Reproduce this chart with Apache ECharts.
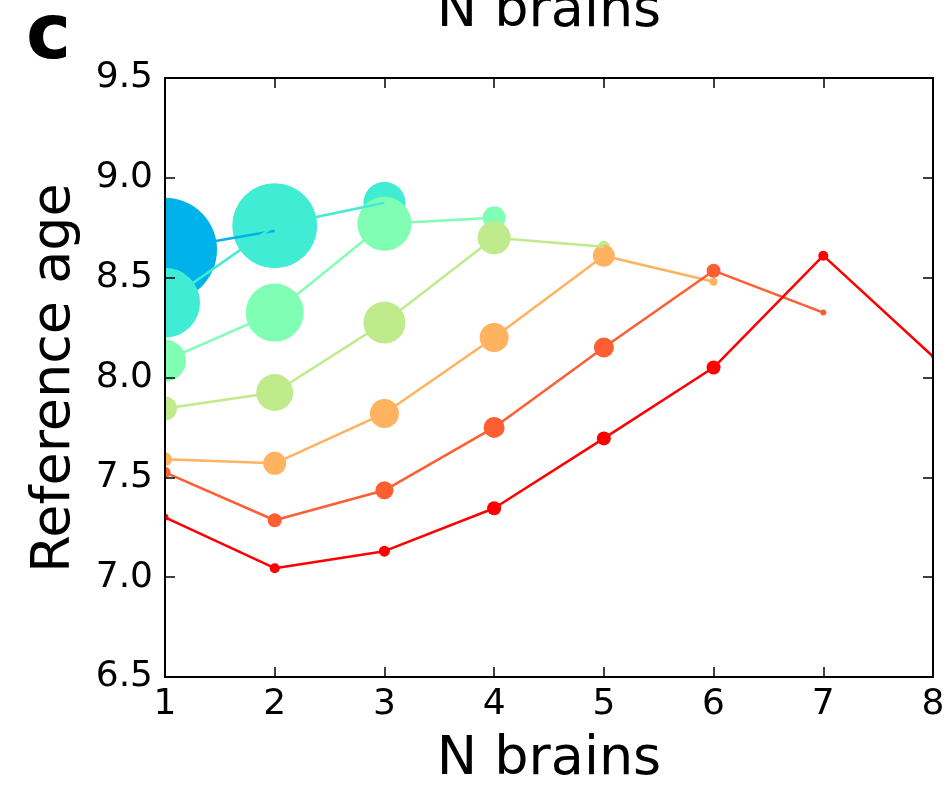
<!DOCTYPE html>
<html>
<head>
<meta charset="utf-8">
<script src="https://cdn.jsdelivr.net/npm/echarts@6/dist/echarts.min.js"></script>
<style>
html,body{margin:0;padding:0;background:#fff;}
#chart{width:948px;height:785px;}
</style>
</head>
<body>
<div id="chart"></div>
<script>
// N brains (x) for each point index
var nBrains = [1, 2, 3, 4, 5, 6, 7, 8];
// Reference age values per series (each starts at N = 1)
var seriesBlue      = [8.64, 8.735];
var seriesTurquoise = [8.375, 8.76, 8.875];
var seriesMint      = [8.085, 8.325, 8.77, 8.80];
var seriesLime      = [7.845, 7.925, 8.275, 8.70, 8.655];
var seriesOrange    = [7.59, 7.57, 7.82, 8.20, 8.61, 8.48];
var seriesCoral     = [7.525, 7.285, 7.435, 7.75, 8.15, 8.535, 8.325];
var seriesRed       = [7.30, 7.045, 7.13, 7.345, 7.695, 8.05, 8.61, 8.105];
// Marker diameters (weights) per point
var sizeBlue      = [104, 6];
var sizeTurquoise = [70, 85, 42];
var sizeMint      = [42, 58, 54, 23];
var sizeLime      = [24, 37, 42, 33, 12];
var sizeOrange    = [14, 23, 29, 29, 22, 8];
var sizeCoral     = [11, 14, 18, 21, 20, 14, 6];
var sizeRed       = [7, 10, 11, 14, 14, 14, 10, 4];
// Y tick labels
var yTicks = ['6.5', '7.0', '7.5', '8.0', '8.5', '9.0', '9.5'];

var groups = [
  {vals: seriesBlue, sizes: sizeBlue, color: '#00b2ea'},
  {vals: seriesTurquoise, sizes: sizeTurquoise, color: '#40ecd4'},
  {vals: seriesMint, sizes: sizeMint, color: '#80ffb4'},
  {vals: seriesLime, sizes: sizeLime, color: '#c0eb8d'},
  {vals: seriesOrange, sizes: sizeOrange, color: '#ffb360'},
  {vals: seriesCoral, sizes: sizeCoral, color: '#ff5e33'},
  {vals: seriesRed, sizes: sizeRed, color: '#ff0000'}
];

var series = [];
groups.forEach(function (g, gi) {
  var pts = g.vals.map(function (v, i) { return [nBrains[i], v]; });
  series.push({
    type: 'scatter',
    data: pts.map(function (p, i) { return {value: p, symbolSize: g.sizes[i]}; }),
    itemStyle: {color: g.color, opacity: 1},
    z: 2 + gi * 0.01,
    silent: true,
    animation: false
  });
});
groups.forEach(function (g, gi) {
  var pts = g.vals.map(function (v, i) { return [nBrains[i], v]; });
  series.push({
    type: 'line',
    data: pts,
    showSymbol: false,
    lineStyle: {color: g.color, width: 2.5},
    z: 3 + gi * 0.01,
    silent: true,
    animation: false,
    clip: true
  });
});

var FONT = 'DejaVu Sans';
var axisLineStyle = {color: '#000', width: 2};

var chart = echarts.init(document.getElementById('chart'), null, {renderer: 'canvas'});
chart.setOption({
  backgroundColor: '#fff',
  animation: false,
  grid: {left: 165, right: 15, top: 78, bottom: 108},
  xAxis: [{
    type: 'value', min: 1, max: 8, interval: 1, position: 'bottom', z: 10,
    axisLine: {show: true, lineStyle: axisLineStyle},
    axisTick: {show: true, inside: true, length: 10, lineStyle: {color: '#000', width: 1.5}},
    axisLabel: {color: '#000', fontFamily: FONT, fontSize: 36, margin: 10},
    splitLine: {show: false}
  }, {
    type: 'value', min: 1, max: 8, interval: 1, position: 'top', z: 10,
    axisLine: {show: true, lineStyle: axisLineStyle},
    axisTick: {show: true, inside: true, length: 10, lineStyle: {color: '#000', width: 1.5}},
    axisLabel: {show: false},
    splitLine: {show: false}
  }],
  yAxis: [{
    type: 'value', min: 6.5, max: 9.5, interval: 0.5, position: 'left', z: 10,
    axisLine: {show: true, lineStyle: axisLineStyle},
    axisTick: {show: true, inside: true, length: 10, lineStyle: {color: '#000', width: 1.5}},
    axisLabel: {color: '#000', fontFamily: FONT, fontSize: 36, margin: 12,
      formatter: function (v) { return yTicks[Math.round((v - 6.5) / 0.5)]; }},
    splitLine: {show: false}
  }, {
    type: 'value', min: 6.5, max: 9.5, interval: 0.5, position: 'right', z: 10,
    axisLine: {show: true, lineStyle: axisLineStyle},
    axisTick: {show: true, inside: true, length: 10, lineStyle: {color: '#000', width: 1.5}},
    axisLabel: {show: false},
    splitLine: {show: false}
  }],
  graphic: [
    {type: 'rect', left: 0, top: 60, shape: {x: 0, y: 0, width: 164, height: 640}, style: {fill: '#fff'}, z: 5, silent: true},
    {type: 'rect', left: 934, top: 60, shape: {x: 0, y: 0, width: 14, height: 616}, style: {fill: '#fff'}, z: 5, silent: true},
    {type: 'text', x: 549, y: 12, z: 20, style: {text: 'N brains', fontFamily: FONT, fontSize: 54, fill: '#000', textAlign: 'center', textVerticalAlign: 'middle'}},
    {type: 'text', x: 549, y: 760, z: 20, style: {text: 'N brains', fontFamily: FONT, fontSize: 54, fill: '#000', textAlign: 'center', textVerticalAlign: 'middle'}},
    {type: 'text', x: 55, y: 378, rotation: Math.PI / 2, z: 20, style: {text: 'Reference age', fontFamily: FONT, fontSize: 54, fill: '#000', textAlign: 'center', textVerticalAlign: 'middle'}},
    {type: 'text', x: 26, y: 38, z: 20, style: {text: 'c', fontFamily: 'DejaVu Sans', fontWeight: 'bold', fontSize: 76, fill: '#000', textAlign: 'left', textVerticalAlign: 'middle'}}
  ],
  series: series
});
</script>
</body>
</html>
